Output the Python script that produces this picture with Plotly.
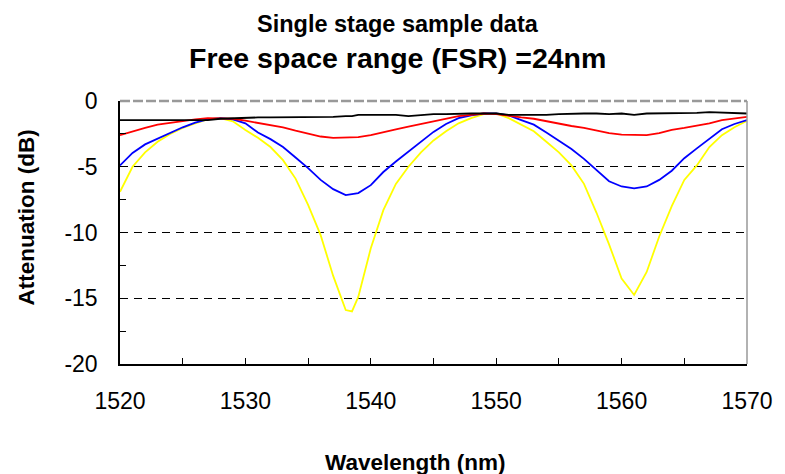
import plotly.graph_objects as go

wavelength = [1520, 1521, 1522, 1523, 1524, 1525, 1526, 1527, 1528, 1529,
              1530, 1531, 1532, 1533, 1534, 1535, 1536, 1537, 1538, 1538.5,
              1539, 1540, 1541, 1542, 1543, 1544, 1545, 1546, 1547, 1548,
              1549, 1550, 1551, 1552, 1553, 1554, 1555, 1556, 1557, 1558,
              1559, 1560, 1561, 1562, 1563, 1564, 1565, 1566, 1567, 1568,
              1569, 1570]

black_db = [-1.45, -1.45, -1.45, -1.45, -1.5, -1.5, -1.45, -1.45, -1.35, -1.3,
            -1.3, -1.25, -1.25, -1.25, -1.25, -1.25, -1.2, -1.2, -1.15, -1.15,
            -1.05, -1.05, -1.1, -1.05, -1.15, -1.05, -1.0, -1.0, -0.95, -0.95,
            -0.95, -0.95, -1.05, -1.05, -1.1, -1.05, -1.0, -0.95, -0.95, -0.95,
            -1.0, -0.95, -1.05, -0.95, -0.95, -0.95, -0.95, -0.9, -0.85, -0.9,
            -0.9, -0.95]

red_db = [-2.6, -2.3, -2.05, -1.8, -1.65, -1.5, -1.4, -1.3, -1.3, -1.35,
          -1.5, -1.65, -1.85, -2.0, -2.25, -2.5, -2.7, -2.8, -2.8, -2.8,
          -2.75, -2.6, -2.35, -2.15, -1.95, -1.75, -1.55, -1.35, -1.15, -1.05,
          -0.95, -1.0, -1.15, -1.25, -1.35, -1.55, -1.75, -1.9, -2.05, -2.25,
          -2.45, -2.55, -2.6, -2.6, -2.45, -2.2, -2.05, -1.9, -1.7, -1.45,
          -1.3, -1.2]

blue_db = [-4.9, -3.95, -3.3, -2.85, -2.4, -2.0, -1.65, -1.4, -1.3, -1.4,
           -1.7, -2.4, -2.9, -3.5, -4.3, -5.1, -6.0, -6.7, -7.15, -7.1,
           -7.0, -6.4, -5.4, -4.6, -3.85, -3.05, -2.35, -1.75, -1.3, -1.1,
           -0.95, -0.95, -1.1, -1.45, -1.8, -2.4, -3.05, -3.65, -4.4, -5.25,
           -6.1, -6.5, -6.65, -6.5, -6.0, -5.3, -4.35, -3.6, -2.85, -2.15,
           -1.75, -1.45]

yellow_db = [-6.9, -5.0, -3.9, -3.1, -2.5, -2.05, -1.7, -1.4, -1.3, -1.55,
             -2.2, -2.8, -3.5, -4.5, -5.9, -7.9, -10.2, -13.3, -15.9, -16.0,
             -14.9, -11.2, -8.3, -6.3, -5.0, -3.9, -3.0, -2.3, -1.7, -1.3,
             -1.0, -0.95, -1.3, -1.8, -2.3, -3.1, -3.9, -4.9, -6.3, -8.5,
             -10.9, -13.5, -14.75, -13.0, -10.3, -8.0, -6.0, -4.9, -3.5, -2.6,
             -2.0, -1.5]

x_tick_values = [1520, 1530, 1540, 1550, 1560, 1570]
x_tick_labels = ["1520", "1530", "1540", "1550", "1560", "1570"]
y_tick_values = [-20, -15, -10, -5, 0]
y_tick_labels = ["-20", "-15", "-10", "-5", "0"]

series = [
    ("yellow", yellow_db, "#FFFF00"),
    ("blue", blue_db, "#0000FF"),
    ("red", red_db, "#FF0000"),
    ("black", black_db, "#000000"),
]

FONT = "Liberation Sans, Arial, sans-serif"

fig = go.Figure()
for name, vals, col in series:
    fig.add_trace(go.Scatter(x=wavelength, y=vals, mode="lines", name=name,
                             line=dict(color=col, width=1.8), showlegend=False))

fig.update_layout(
    width=785, height=474,
    margin=dict(l=120, r=28, t=101, b=110),
    paper_bgcolor="white", plot_bgcolor="white",
    font=dict(family=FONT, color="black"),
    xaxis=dict(range=[1520, 1570], tickvals=x_tick_values, ticktext=x_tick_labels,
               ticks="inside", ticklen=6, tickcolor="black", tickwidth=1.3,
               minor=dict(dtick=5, tick0=1520, ticks="inside", ticklen=6, tickcolor="black", tickwidth=1.3),
               showgrid=False, zeroline=False,
               showline=True, linecolor="black", linewidth=1.5,
               tickfont=dict(size=23, family=FONT), ticklabelstandoff=16),
    yaxis=dict(range=[-20, 0], tickvals=y_tick_values, ticktext=y_tick_labels,
               ticks="inside", ticklen=6, tickcolor="black", tickwidth=1.3,
               minor=dict(dtick=2.5, tick0=0, ticks="inside", ticklen=6, tickcolor="black", tickwidth=1.3),
               showgrid=True, gridcolor="black", gridwidth=1, griddash="8px,6px",
               zeroline=False,
               showline=True, linecolor="black", linewidth=1.5,
               tickfont=dict(size=23, family=FONT), ticklabelstandoff=16),
    shapes=[
        dict(type="line", xref="x domain", yref="y domain", x0=0, x1=1, y0=1, y1=1,
             line=dict(color="#999999", width=2.5, dash="10px,3px"), layer="below"),
        dict(type="line", xref="x domain", yref="y domain", x0=1, x1=1, y0=0, y1=1,
             line=dict(color="#999999", width=1.5)),
    ],
    annotations=[
        dict(text="<b>Single stage sample data</b>", xref="paper", yref="paper",
             x=0.4427, y=1.293, xanchor="center", yanchor="middle", showarrow=False,
             font=dict(size=23.5, family=FONT)),
        dict(text="<b>Free space range (FSR) =24nm</b>", xref="paper", yref="paper",
             x=0.4427, y=1.1616, xanchor="center", yanchor="middle", showarrow=False,
             font=dict(size=28.5, family=FONT)),
        dict(text="<b>Wavelength (nm)</b>", xref="paper", yref="paper",
             x=0.471, y=-0.376, xanchor="center", yanchor="middle", showarrow=False,
             font=dict(size=22.5, family=FONT)),
        dict(text="<b>Attenuation (dB)</b>", xref="paper", yref="paper",
             x=-0.1476, y=0.559, xanchor="center", yanchor="middle", showarrow=False,
             textangle=-90, font=dict(size=22.5, family=FONT)),
    ],
)

fig.write_html("out.html", config={"displayModeBar": False},
               post_script="document.body.style.margin='0';document.body.style.overflow='hidden';")
